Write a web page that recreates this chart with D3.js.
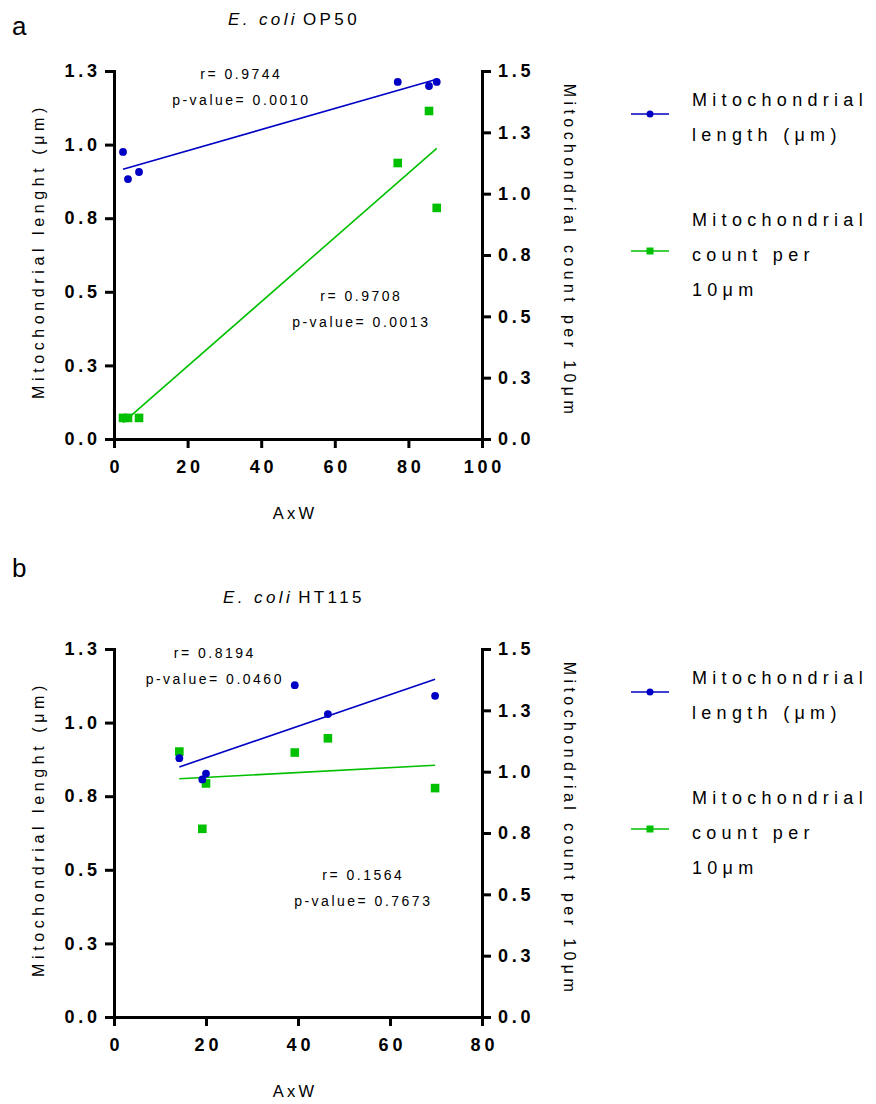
<!DOCTYPE html>
<html>
<head>
<meta charset="utf-8">
<script src="https://cdn.jsdelivr.net/npm/d3@7"></script>
<style>
  body { margin: 0; background: #fff; }
  svg { display: block; }
  text { font-family: Arial, "Liberation Sans", sans-serif; fill: #000; }
</style>
</head>
<body>
<svg id="chart"></svg>
<script>
// panel a: E. coli OP50
const axwA = [2.45, 3.8, 6.8, 77.1, 85.6, 87.7];
const lengthA = [0.975, 0.883, 0.907, 1.213, 1.199, 1.213];
const countA = [0.086, 0.086, 0.086, 1.125, 1.337, 0.942];
const statsA = [['r= 0.9744', 'p-value= 0.0010'], ['r= 0.9708', 'p-value= 0.0013']];
const xTicksA = [0, 20, 40, 60, 80, 100];

// panel b: E. coli HT115
const axwB = [14.2, 19.2, 20.0, 39.3, 46.5, 69.8];
const lengthB = [0.879, 0.807, 0.827, 1.127, 1.029, 1.091];
const countB = [1.082, 0.767, 0.952, 1.078, 1.136, 0.933];
const statsB = [['r= 0.8194', 'p-value= 0.0460'], ['r= 0.1564', 'p-value= 0.7673']];
const xTicksB = [0, 20, 40, 60, 80];

const leftTicks = [0, 0.25, 0.5, 0.75, 1, 1.25];
const rightTicks = [0, 0.25, 0.5, 0.75, 1, 1.25, 1.5];
const legendLength = ['Mitochondrial', 'length (μm)'];
const legendCount = ['Mitochondrial', 'count per', '10μm'];

const width = 876;
const height = 1104;
const BLUE = '#0000c4';
const GREEN = '#00c000';

const svg = d3.select('#chart')
  .attr('width', width)
  .attr('height', height)
;

const fmt = d3.format('.1f');

function fit(xs, ys) {
  const mx = d3.mean(xs), my = d3.mean(ys);
  let sxy = 0, sxx = 0;
  xs.forEach((x, i) => { sxy += (x - mx) * (ys[i] - my); sxx += (x - mx) * (x - mx); });
  const slope = sxy / sxx;
  return x => my + slope * (x - mx);
}

function styleAxis(g, spacing) {
  g.select('.domain').attr('stroke-width', 3).attr('stroke-linecap', 'square');
  g.selectAll('.tick line').attr('stroke-width', 3);
  g.selectAll('.tick text')
    .attr('fill', '#000')
    .style('font-family', 'Arial, "Liberation Sans", sans-serif')
    .style('font-size', '18px')
    .style('font-weight', 'bold')
    .style('letter-spacing', spacing + 'px');
}

function drawPanel(p) {
  const left = 114, right = 482, top = p.top, bottom = p.top + 368;
  const g = svg.append('g');

  const x = d3.scaleLinear().domain([0, p.xMax]).range([left, right]);
  const yL = d3.scaleLinear().domain([0, 1.25]).range([bottom, top]);
  const yR = d3.scaleLinear().domain([0, 1.5]).range([bottom, top]);

  // panel letter and title
  g.append('text')
    .attr('x', 12).attr('y', p.letterY)
    .style('font-size', '26px')
    .text(p.letter);
  const title = g.append('text')
    .attr('x', 294).attr('y', top - 46)
    .attr('text-anchor', 'middle')
    .style('font-size', '17px')
    .style('letter-spacing', '3.4px');
  title.append('tspan').style('font-style', 'italic').text('E. coli');
  title.append('tspan').attr('dx', 5).text(p.strain);

  // axes
  const gx = g.append('g')
    .attr('transform', `translate(0,${bottom})`)
    .call(d3.axisBottom(x).tickValues(p.xTicks).tickSize(9).tickSizeOuter(0).tickPadding(12));
  styleAxis(gx, 3.8);
  gx.selectAll('.tick text').attr('dx', 1.9);

  const gl = g.append('g')
    .attr('transform', `translate(${left},0)`)
    .call(d3.axisLeft(yL).tickValues(leftTicks).tickFormat(fmt).tickSize(9).tickSizeOuter(0).tickPadding(7));
  styleAxis(gl, 3.8);
  gl.selectAll('.tick text').attr('dx', 2.8);

  const gr = g.append('g')
    .attr('transform', `translate(${right},0)`)
    .call(d3.axisRight(yR).tickValues(rightTicks).tickFormat(fmt).tickSize(9).tickSizeOuter(0).tickPadding(7));
  styleAxis(gr, 3.8);

  // axis titles
  g.append('text')
    .attr('x', 295).attr('y', bottom + 80)
    .attr('text-anchor', 'middle')
    .style('font-size', '16.5px')
    .style('letter-spacing', '3.2px')
    .text('AxW');
  g.append('text')
    .attr('transform', `translate(44,${(top + bottom) / 2 - 4}) rotate(-90)`)
    .attr('text-anchor', 'middle')
    .style('font-size', '16px')
    .style('letter-spacing', '4.6px')
    .text('Mitochondrial lenght (μm)');
  g.append('text')
    .attr('transform', `translate(564,${(top + bottom) / 2 - 4}) rotate(90)`)
    .attr('text-anchor', 'middle')
    .style('font-size', '16px')
    .style('letter-spacing', '4.4px')
    .text('Mitochondrial count per 10μm');

  // regression lines
  const fl = fit(p.axw, p.len);
  const fc = fit(p.axw, p.cnt);
  const ext = d3.extent(p.axw);
  g.append('path')
    .datum(ext)
    .attr('fill', 'none').attr('stroke', BLUE).attr('stroke-width', 1.6)
    .attr('d', d3.line().x(d => x(d)).y(d => yL(fl(d))));
  g.append('path')
    .datum(ext)
    .attr('fill', 'none').attr('stroke', GREEN).attr('stroke-width', 1.6)
    .attr('d', d3.line().x(d => x(d)).y(d => yR(fc(d))));

  // points
  g.selectAll('.sq')
    .data(p.axw.map((v, i) => [v, p.cnt[i]]))
    .enter().append('rect')
    .attr('x', d => x(d[0]) - 4.3).attr('y', d => yR(d[1]) - 4.3)
    .attr('width', 8.6).attr('height', 8.6)
    .attr('fill', GREEN);
  g.selectAll('.dot')
    .data(p.axw.map((v, i) => [v, p.len[i]]))
    .enter().append('circle')
    .attr('cx', d => x(d[0])).attr('cy', d => yL(d[1]))
    .attr('r', 3.9)
    .attr('fill', BLUE);

  // stats
  p.stats.forEach((s, k) => {
    const t = g.append('text')
      .attr('text-anchor', 'middle')
      .style('font-size', '14px')
      .style('letter-spacing', '2.5px');
    s.forEach((line, j) => {
      t.append('tspan')
        .attr('x', p.statPos[k][0] + 1.3)
        .attr('y', top + p.statPos[k][1] + j * 26)
        .text(line);
    });
  });

  // legend
  const lg = g.append('g').attr('transform', `translate(0,${top})`);
  [[BLUE, legendLength, 43, 35], [GREEN, legendCount, 180, 155]].forEach(([c, lines, ly, ty], k) => {
    lg.append('line')
      .attr('x1', 631).attr('x2', 669).attr('y1', ly).attr('y2', ly)
      .attr('stroke', c).attr('stroke-width', 1.6);
    if (k === 0) {
      lg.append('circle').attr('cx', 650).attr('cy', ly).attr('r', 3.5).attr('fill', c);
    } else {
      lg.append('rect').attr('x', 646.5).attr('y', ly - 3.5).attr('width', 7).attr('height', 7).attr('fill', c);
    }
    lines.forEach((line, j) => {
      lg.append('text')
        .attr('x', 692).attr('y', ty + j * 35)
        .style('font-size', '18px')
        .style('letter-spacing', '5.3px')
        .text(line);
    });
  });
}

drawPanel({
  letter: 'a', letterY: 35, strain: 'OP50', top: 71, xMax: 100, xTicks: xTicksA,
  axw: axwA, len: lengthA, cnt: countA, stats: statsA, statPos: [[240, 8], [360, 230]]
});
drawPanel({
  letter: 'b', letterY: 577, strain: 'HT115', top: 649, xMax: 80, xTicks: xTicksB,
  axw: axwB, len: lengthB, cnt: countB, stats: statsB, statPos: [[213.5, 9], [362, 231]]
});
</script>
</body>
</html>
